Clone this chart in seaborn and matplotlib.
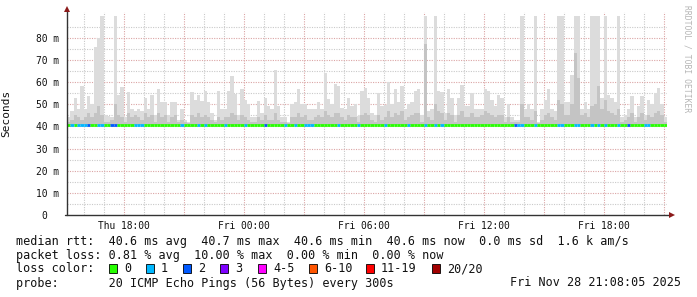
import numpy as np
import pandas as pd
import matplotlib
matplotlib.use("Agg")
import matplotlib.pyplot as plt
import seaborn as sns

# ---------------- data ----------------
start_time = "2025-11-27 15:08"
step_minutes = 10

smoke_top = [
    44, 47, 53, 48, 58, 48, 53.5, 50, 76, 80, 90, 45, 44.5, 44, 90, 54, 57.7, 44, 55.5, 48,
    47, 48, 47, 53, 48, 54, 45, 57, 51, 51, 45, 51, 51, 43, 48, 43, 42, 55.5, 52, 54,
    51.5, 55.8, 51, 46, 43, 55.8, 48, 48, 56, 62.6, 54.5, 45, 57, 52, 50, 44, 44, 51.5, 46, 53,
    49, 48, 65.6, 49, 44, 44, 42, 50, 51, 57, 50, 50, 48, 48, 48, 51, 48, 64, 52.5, 50,
    59, 58, 48.5, 48, 53, 49, 50, 44.5, 56, 57.5, 53, 46, 45, 55, 49, 49.5, 60, 50, 57, 51,
    58, 48, 50, 51, 56, 57, 45, 90, 47, 48, 90, 56, 55.5, 46, 57, 53, 45, 53, 58.5, 49,
    49, 55, 48, 48, 48, 57, 56, 52, 49, 54, 53, 44, 50, 44, 43, 43, 90, 48, 50, 48,
    90, 42, 48, 52, 57, 48, 47, 90, 90, 51, 51, 63, 90, 90, 48, 51, 48, 90, 90, 90,
    53, 90, 54, 53, 51, 90, 44, 45, 48, 53.5, 44, 49, 53.5, 45, 52, 50, 55, 57.5, 50, 44,
]

smoke_mid = [
    42, 43, 45, 44, 43, 44, 46, 44, 46, 49, 45, 42, 42, 43, 50, 45, 44, 42, 46, 44,
    45, 44, 43, 46, 44, 45, 42, 46, 44, 45, 42, 44, 45, 42, 43, 42, 41.5, 45, 44, 46,
    44, 45, 44, 43, 42, 44, 43, 44, 44, 46, 45, 43, 45, 44, 43, 42, 42, 44, 43, 45,
    43, 43, 46, 43, 42, 42, 41.5, 44, 44, 46, 44, 45, 43, 43, 44, 45, 44, 47, 45, 44,
    46, 46, 44, 43, 45, 44, 44, 42, 45, 46, 45, 43, 42, 45, 43, 44, 47, 44, 46, 45,
    47, 43, 44, 45, 46, 46, 42, 77, 44, 43, 50, 47, 46, 43, 46, 45, 42, 45, 47, 44,
    44, 46, 44, 44, 45, 47, 46, 45, 44, 45, 45, 42, 44, 42, 42, 42, 50, 44, 44, 43,
    47, 41.5, 43, 45, 46, 44, 43, 52, 50, 45, 45, 50, 73, 62, 45, 46, 44, 49, 50, 58,
    48, 52, 47, 46, 45, 48, 42, 43, 44, 46, 42, 44, 46, 43, 45, 44, 46, 47, 45, 42,
]

loss_count = [
    0, 1, 0, 1, 1, 1, 2, 0, 0, 1, 1, 0, 0, 2, 2, 0, 0, 0, 0, 0,
    1, 1, 1, 0, 0, 0, 0, 0, 0, 0, 0, 0, 0, 0, 1, 0, 0, 0, 0, 1,
    0, 1, 0, 0, 0, 0, 0, 1, 0, 0, 0, 0, 0, 1, 0, 0, 0, 0, 0, 2,
    0, 0, 0, 0, 0, 1, 0, 0, 1, 0, 0, 1, 1, 1, 0, 0, 0, 0, 0, 0,
    0, 1, 0, 0, 0, 0, 0, 1, 0, 0, 0, 0, 0, 0, 0, 1, 0, 0, 0, 0,
    0, 0, 1, 0, 0, 0, 0, 1, 0, 0, 1, 0, 1, 0, 0, 0, 0, 0, 0, 0,
    0, 0, 0, 0, 0, 0, 0, 0, 0, 0, 0, 0, 0, 0, 2, 1, 1, 0, 0, 0,
    1, 0, 0, 0, 0, 0, 0, 1, 1, 0, 0, 0, 1, 1, 0, 0, 0, 1, 0, 1,
    0, 1, 0, 0, 0, 1, 0, 0, 2, 0, 0, 0, 0, 1, 1, 0, 0, 0, 0, 0,
]

median_rtt_ms = 40.6
smoke_floor_ms = 40.4

xtick_times = ["2025-11-27 18:00", "2025-11-28 00:00", "2025-11-28 06:00",
               "2025-11-28 12:00", "2025-11-28 18:00"]
xtick_labels = ["Thu 18:00", "Fri 00:00", "Fri 06:00", "Fri 12:00", "Fri 18:00"]
ytick_values = [0, 10, 20, 30, 40, 50, 60, 70, 80]
ytick_labels = ["0  ", "10 m", "20 m", "30 m", "40 m", "50 m", "60 m", "70 m", "80 m"]

loss_bins = ["0", "1", "2", "3", "4-5", "6-10", "11-19", "20/20"]
loss_colors = ["#26ff00", "#00b8ff", "#0059ff", "#7e00ff", "#ff00ff",
               "#ff5500", "#ff0000", "#a10000"]

stats_line1 = "median rtt:  40.6 ms avg  40.7 ms max  40.6 ms min  40.6 ms now  0.0 ms sd  1.6 k am/s"
stats_line2 = "packet loss: 0.81 % avg  10.00 % max  0.00 % min  0.00 % now"
probe_line = "probe:       20 ICMP Echo Pings (56 Bytes) every 300s"
stamp_text = "Fri Nov 28 21:08:05 2025"

# ---------------- figure ----------------
sns.set_style("white")
plt.rcParams["font.family"] = ["DejaVu Sans Mono"]

W, H = 697, 297
fig = plt.figure(figsize=(W / 100, H / 100), dpi=100)
fig.patch.set_facecolor("white")

ax_left, ax_right, ax_top, ax_bottom = 67, 667, 12, 215
ax = fig.add_axes([ax_left / W, 1 - ax_bottom / H,
                   (ax_right - ax_left) / W, (ax_bottom - ax_top) / H])
ax.set_facecolor("white")

t0 = pd.Timestamp(start_time)
n = len(smoke_top)
edges = np.arange(n + 1) * step_minutes / 60.0
total_h = edges[-1]


def hours(ts):
    return (pd.Timestamp(ts) - t0) / pd.Timedelta(hours=1)


top_step = np.append(np.array(smoke_top, float), smoke_top[-1])
mid_step = np.append(np.array(smoke_mid, float), smoke_mid[-1])

ax.fill_between(edges, smoke_floor_ms, top_step, step="post",
                color="#dcdcdc", linewidth=0, zorder=2)
ax.fill_between(edges, smoke_floor_ms, mid_step, step="post",
                color="#c4c4c4", linewidth=0, zorder=3)

# median line coloured by loss
for k in range(n):
    ax.hlines(median_rtt_ms, edges[k], edges[k + 1],
              colors=loss_colors[loss_count[k]], linewidth=2.0, zorder=4)

# grid
hour_marks = [hours(t) for t in pd.date_range("2025-11-27 16:00", "2025-11-28 21:00", freq="h")]
three_marks = [hours(t) for t in pd.date_range("2025-11-27 18:00", "2025-11-28 21:00", freq="3h")]
major_col = "#dba5a5"
minor_col = "#c9c9c9"
dot = (0, (1, 1.2))
for h in hour_marks:
    if h not in three_marks:
        ax.axvline(h, color=minor_col, lw=0.8, ls=dot, zorder=1)
for h in three_marks:
    ax.axvline(h, color=major_col, lw=0.8, ls=dot, zorder=1)
for v in np.arange(5, 91, 10):
    ax.axhline(v, color=minor_col, lw=0.8, ls=dot, zorder=1)
for v in ytick_values[1:]:
    ax.axhline(v, color=major_col, lw=0.8, ls=dot, zorder=1)

ax.set_xlim(0, total_h)
ax.set_ylim(0, (ax_bottom - ax_top) / 2.216)

# ticks
xt = [hours(t) for t in xtick_times]
ax.set_xticks(three_marks)
ax.set_xticklabels([xtick_labels[xt.index(h)] if h in xt else "" for h in three_marks])
ax.set_yticks(ytick_values)
ax.set_yticklabels(ytick_labels)
ax.tick_params(axis="x", direction="inout", length=5, width=0.8, color="#333333",
               labelsize=6.9, pad=2, labelcolor="#111111")
ax.tick_params(axis="y", direction="inout", length=3, width=0.8, color="#333333",
               labelsize=6.9, pad=4, labelcolor="#111111")

for s in ["top", "right", "left", "bottom"]:
    ax.spines[s].set_visible(False)
axis_col = "#333333"
ax.plot([0, 0], [0, 1.012], transform=ax.transAxes, color=axis_col, lw=1.0,
        clip_on=False, zorder=6)
ax.plot([-0.004, 1.004], [0, 0], transform=ax.transAxes, color=axis_col, lw=1.0,
        clip_on=False, zorder=6)
ax.plot([0], [1.015], transform=ax.transAxes, marker="^", ms=4.5, color="#8b1a1a",
        clip_on=False, zorder=7, markeredgewidth=0)
ax.plot([1.008], [0], transform=ax.transAxes, marker=">", ms=4.5, color="#8b1a1a",
        clip_on=False, zorder=7, markeredgewidth=0)

ax.set_ylabel("Seconds", fontsize=8, color="#111111", labelpad=8)
ax.yaxis.set_label_coords((11 - ax_left) / (ax_right - ax_left), 0.5)


def fx(x):
    return x / W


def fy(y):
    return 1 - y / H


fig.text(fx(687), fy(59), "RRDTOOL / TOBI OETIKER", rotation=270, fontsize=5.8,
         color="#b5b5b5", ha="center", va="center")

fs = 8.5
fig.text(fx(16), fy(241), stats_line1, fontsize=fs, va="center", ha="left", color="#111111")
fig.text(fx(16), fy(255), stats_line2, fontsize=fs, va="center", ha="left", color="#111111")
fig.text(fx(16), fy(269), "loss color:", fontsize=fs, va="center", ha="left", color="#111111")
fig.text(fx(16), fy(283), probe_line, fontsize=fs, va="center", ha="left", color="#111111")
fig.text(fx(681), fy(283), stamp_text, fontsize=fs, va="center", ha="right", color="#111111")

box_x = [109, 146, 183, 220, 258, 309, 366, 432]
for bx, lab, col in zip(box_x, loss_bins, loss_colors):
    fig.patches.append(plt.Rectangle((fx(bx), fy(273)), 8 / W, 9 / H, transform=fig.transFigure,
                                     facecolor=col, edgecolor="#000000", linewidth=0.6))
    fig.text(fx(bx + 15), fy(269), lab, fontsize=fs, va="center", ha="left", color="#111111")

fig.savefig("out.png", dpi=100, facecolor="white")
